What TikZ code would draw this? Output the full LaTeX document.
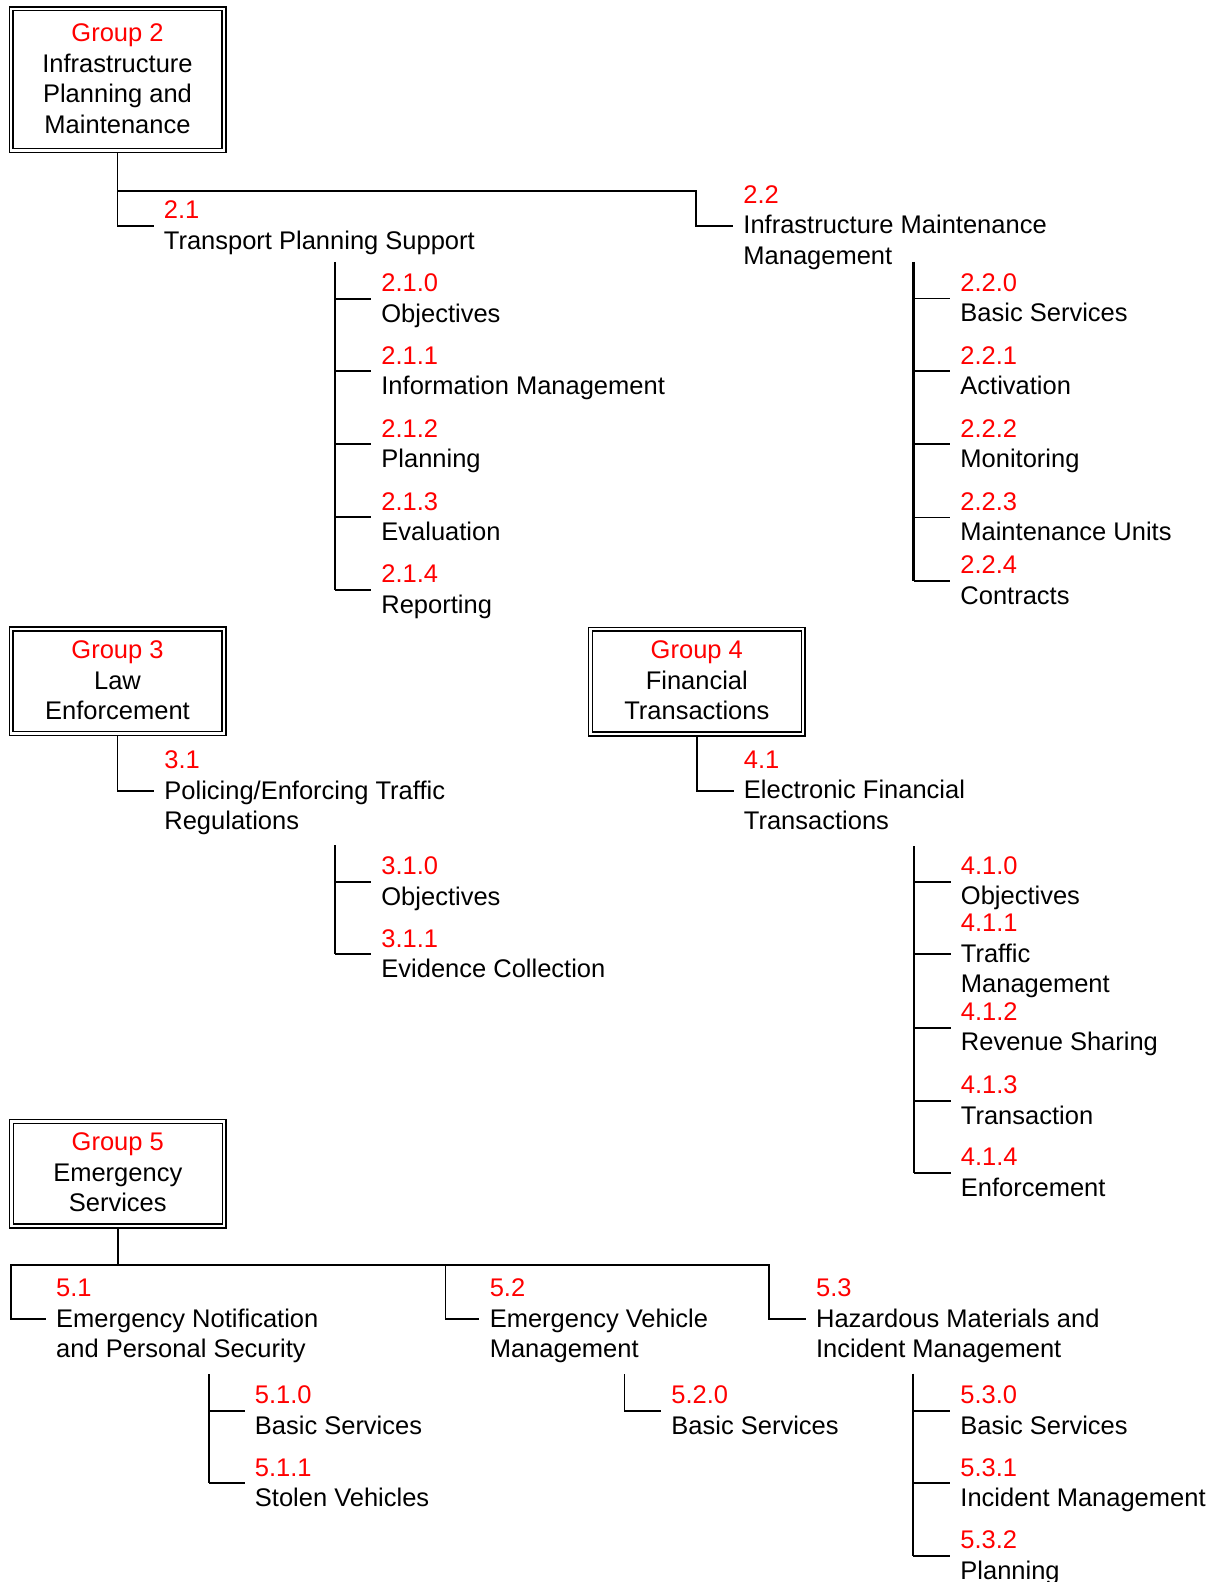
\documentclass[tikz,border=0pt]{standalone}
\usepackage{fontspec}
\setmainfont{Liberation Sans}
\usetikzlibrary{calc}
\newcommand{\itm}[2]{\raisebox{-1pt}[\height][\depth]{\begin{tabular}{@{}l@{}}\textcolor{red}{#1}\\#2\end{tabular}}}
\newcommand{\grp}[2]{\raisebox{-0.8pt}[\height][\depth]{\begin{tabular}{@{}c@{}}\textcolor{red}{#1}\\#2\end{tabular}}}
\begin{document}
\begin{tikzpicture}[x=0.5pt,y=-0.5pt,
  txt/.style={font=\fontsize{12.75}{15.25}\selectfont},
  item/.style={txt, anchor=west, inner xsep=5pt, inner ysep=0pt},
  grpbox/.style={txt, draw, line width=0.8pt, minimum width=108.2pt, inner sep=0pt},
  innerbox/.style={line width=0.65pt},
  conn/.style={line width=0.9pt},
  trunk/.style={line width=1.1pt}]
\fill[white] (0,0) rectangle (1216,1582);
\useasboundingbox (0,0) rectangle (1216,1582);

% ---------------- Group 2 ----------------
\node[grpbox, minimum height=72.85pt] (g2) at (117.5,79.65) {\grp{Group 2}{Infrastructure\\Planning and\\Maintenance}};
\draw[innerbox] ($(g2.north west)+(4.6,4.6)$) rectangle ($(g2.south east)+(-4.6,-4.6)$);

\node[item] (i21) at (153.5,225.7) {\itm{2.1}{Transport Planning Support}};
\node[item] (i22) at (733,225.7) {\itm{2.2}{Infrastructure Maintenance\\Management}};
\coordinate (b2) at (117.5,190.7);
\coordinate (e22) at (696,225.7);
\draw[conn] (g2.south) |- (i21.west);
\draw[conn] (b2) -| (e22) -- (i22.west);

\node[item] (i210) at (371,298.7) {\itm{2.1.0}{Objectives}};
\node[item] (i211) at (371,371.3) {\itm{2.1.1}{Information Management}};
\node[item] (i212) at (371,444.3) {\itm{2.1.2}{Planning}};
\node[item] (i213) at (371,517.3) {\itm{2.1.3}{Evaluation}};
\node[item] (i214) at (371,590) {\itm{2.1.4}{Reporting}};
\coordinate (t21) at (335,262);
\draw[trunk] (t21) -- (t21 |- i214.west);
\foreach \n in {i210,i211,i212,i213,i214} \draw[conn] (t21 |- \n.west) -- (\n.west);

\node[item] (i220) at (950,298.5) {\itm{2.2.0}{Basic Services}};
\node[item] (i221) at (950,371.3) {\itm{2.2.1}{Activation}};
\node[item] (i222) at (950,444.3) {\itm{2.2.2}{Monitoring}};
\node[item] (i223) at (950,517.5) {\itm{2.2.3}{Maintenance Units}};
\node[item] (i224) at (950,581) {\itm{2.2.4}{Contracts}};
\coordinate (t22) at (913.5,262);
\draw[trunk] (t22) -- (t22 |- i224.west);
\foreach \n in {i220,i221,i222,i223,i224} \draw[conn] (t22 |- \n.west) -- (\n.west);

% ---------------- Group 3 ----------------
\node[grpbox, minimum height=54.2pt] (g3) at (117.5,681.4) {\grp{Group 3}{Law\\Enforcement}};
\draw[innerbox] ($(g3.north west)+(4.6,4.6)$) rectangle ($(g3.south east)+(-4.6,-4.6)$);
\node[item] (i31) at (154,791) {\itm{3.1}{Policing/Enforcing Traffic\\Regulations}};
\draw[conn] (g3.south) |- (i31.west);

\node[item] (i310) at (371,881.7) {\itm{3.1.0}{Objectives}};
\node[item] (i311) at (371,954.3) {\itm{3.1.1}{Evidence Collection}};
\coordinate (t31) at (335.3,845.3);
\draw[trunk] (t31) -- (t31 |- i311.west);
\foreach \n in {i310,i311} \draw[conn] (t31 |- \n.west) -- (\n.west);

% ---------------- Group 4 ----------------
\node[grpbox, minimum height=54.2pt] (g4) at (696.8,681.5) {\grp{Group 4}{Financial\\Transactions}};
\draw[innerbox] ($(g4.north west)+(4.6,4.6)$) rectangle ($(g4.south east)+(-4.6,-4.6)$);
\node[item] (i41) at (733.5,790.6) {\itm{4.1}{Electronic Financial\\Transactions}};
\draw[conn] (g4.south) |- (i41.west);

\node[item] (i410) at (950.5,881.6) {\itm{4.1.0}{Objectives}};
\node[item] (i411) at (950.5,954.2) {\itm{4.1.1}{Traffic\\Management}};
\node[item] (i412) at (950.5,1027.6) {\itm{4.1.2}{Revenue Sharing}};
\node[item] (i413) at (950.5,1101) {\itm{4.1.3}{Transaction}};
\node[item] (i414) at (950.5,1173) {\itm{4.1.4}{Enforcement}};
\coordinate (t41) at (913.7,846);
\draw[trunk] (t41) -- (t41 |- i414.west);
\foreach \n in {i410,i411,i412,i413,i414} \draw[conn] (t41 |- \n.west) -- (\n.west);

% ---------------- Group 5 ----------------
\node[grpbox, minimum height=54.2pt] (g5) at (117.8,1173.7) {\grp{Group 5}{Emergency\\Services}};
\draw[innerbox] ($(g5.north west)+(4.6,4.6)$) rectangle ($(g5.south east)+(-4.6,-4.6)$);
\node[item] (i51) at (45.8,1319.3) {\itm{5.1}{Emergency Notification\\and Personal Security}};
\node[item] (i52) at (479.4,1319.3) {\itm{5.2}{Emergency Vehicle\\Management}};
\node[item] (i53) at (805.7,1319.3) {\itm{5.3}{Hazardous Materials and\\Incident Management}};
\coordinate (b5) at (117.8,1264.7);
\coordinate (b5l) at (10.8,1264.7);
\coordinate (b5m) at (445.5,1264.7);
\coordinate (b5r) at (768.6,1264.7);
\draw[conn] (g5.south) -- (b5);
\draw[conn] (i51.west) -| (b5l) -- (b5r) |- (i53.west);
\draw[conn] (b5m) |- (i52.west);

\node[item] (i510) at (244.5,1410.7) {\itm{5.1.0}{Basic Services}};
\node[item] (i511) at (244.5,1483.3) {\itm{5.1.1}{Stolen Vehicles}};
\coordinate (t51) at (208.7,1374);
\draw[trunk] (t51) -- (t51 |- i511.west);
\foreach \n in {i510,i511} \draw[conn] (t51 |- \n.west) -- (\n.west);

\node[item] (i520) at (661,1410.7) {\itm{5.2.0}{Basic Services}};
\coordinate (t52) at (624.4,1374);
\draw[conn] (t52) |- (i520.west);

\node[item] (i530) at (950,1410.7) {\itm{5.3.0}{Basic Services}};
\node[item] (i531) at (950,1483.3) {\itm{5.3.1}{Incident Management}};
\node[item] (i532) at (950,1556) {\itm{5.3.2}{Planning}};
\coordinate (t53) at (913.3,1373.5);
\draw[trunk] (t53) -- (t53 |- i532.west);
\foreach \n in {i530,i531,i532} \draw[conn] (t53 |- \n.west) -- (\n.west);
\end{tikzpicture}
\end{document}
